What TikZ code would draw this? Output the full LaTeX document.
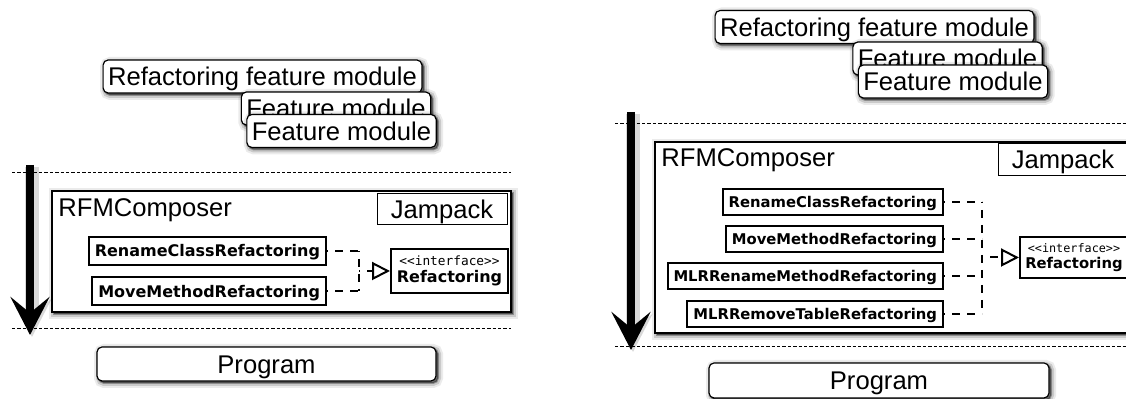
\documentclass[tikz,border=0pt]{standalone}
\usepackage{fontspec}
\setmainfont{Liberation Sans}
\newfontfamily\umlfont{DejaVu Sans}
\newfontfamily\umlmono{DejaVu Sans Mono}
\usepackage{tikz}
\usetikzlibrary{arrows.meta,shadows}

\begin{document}
\begin{tikzpicture}[x=0.5pt, y=-0.5pt,
  softshadow/.style={
    drop shadow={shadow xshift=1pt, shadow yshift=-1pt, opacity=.08, fill=black, draw=black, line width=5pt},
    drop shadow={shadow xshift=1pt, shadow yshift=-1pt, opacity=.14, fill=black, draw=black, line width=3pt},
    drop shadow={shadow xshift=1pt, shadow yshift=-1pt, opacity=.3, fill=black, draw=black, line width=1pt}},
  modbox/.style={draw, line width=.6pt, rounded corners=2.5pt, fill=white, softshadow,
    font=\fontsize{12.8}{14}\selectfont, text height=9.2pt, text depth=0pt,
    inner xsep=2.5pt, minimum height=16.5pt},
  compbox/.style={draw, line width=.8pt, fill=white, softshadow, inner sep=0pt},
  pkgbox/.style={draw, line width=.5pt, fill=white, font=\fontsize{12.8}{14}\selectfont,
    text height=9.2pt, text depth=0pt, minimum width=65pt, minimum height=15pt},
  title/.style={font=\fontsize{12.8}{14}\selectfont, anchor=base west, inner sep=0pt},
  classbox/.style={draw, line width=1pt, fill=white, font=\umlfont\bfseries\fontsize{8}{9}\selectfont,
    text height=5.8pt, text depth=0pt, inner xsep=3pt, minimum height=14pt, anchor=east},
  ifacebox/.style={draw, line width=1pt, fill=white, align=center, inner sep=1pt,
    font=\umlfont\bfseries\fontsize{8}{8.5}\selectfont},
  sepline/.style={line width=.5pt, dash pattern=on 1.7pt off 1pt},
  flow/.style={line width=4pt, -{Stealth[length=19pt, width=19.5pt, inset=8pt]},
    preaction={draw, opacity=.15, line width=7pt, transform canvas={shift={(1pt,-1pt)}}}},
  realize/.style={line width=1pt, dash pattern=on 4pt off 3.5pt, dash phase=3.5pt}]

  \useasboundingbox (0,0) rectangle (1126,399);
  \clip (0,0) rectangle (1126,399);

  % Left: feature modules
  \node[modbox] (rfmL) at (262.5,76.5) {Refactoring feature module};
  \node[modbox] (fmbackL) at (336,108.5) {Feature module};
  \node[modbox] (fmL) at (341.5,131) {Feature module};

  % Left: composition layer
  \draw[sepline] (12,173) -- (511,173);
  \draw[sepline] (12,329) -- (511,329);
  \node[compbox, minimum width=229.5pt, minimum height=60.5pt] (composerL) at (281.75,251.5) {};
  \node[title] (titleL) at (58,217) {RFMComposer};
  \node[pkgbox] (jampackL) at (442,209) {Jampack};
  \draw[flow] (30,165) -- (30,335);

  % Left: refactoring classes
  \node[classbox] (renameL) at (327,251) {RenameClassRefactoring};
  \node[classbox] (moveL) at (327,291.5) {MoveMethodRefactoring};
  \node[ifacebox, minimum width=58.5pt, minimum height=22pt] (ifaceL) at (449.5,271)
    {{\umlmono\mdseries\fontsize{6.4}{7}\selectfont <{}<interface>{}>}\\Refactoring};
  \coordinate (jL) at (359,271);
  \foreach \n in {renameL,moveL}
    \draw[realize] (\n.east) -- (\n.east -| jL);
  \draw[realize] (renameL.east -| jL) -- (moveL.east -| jL);
  \draw[realize, -{Triangle[length=9pt, width=9pt, fill=white]}] (jL) -- (ifaceL.west);

  \node[modbox, minimum width=169.5pt, minimum height=17pt] (progL) at (266.5,364) {Program};

  % Right: feature modules
  \node[modbox] (rfmR) at (874.5,27) {Refactoring feature module};
  \node[modbox] (fmbackR) at (947.5,58.5) {Feature module};
  \node[modbox] (fmR) at (953,81.5) {Feature module};

  % Right: composition layer
  \draw[sepline] (615,124) -- (1126,124);
  \draw[sepline] (615,347) -- (1126,347);
  \node[compbox, minimum width=242.5pt, minimum height=95.5pt] (composerR) at (897.5,237.5) {};
  \node[title] (titleR) at (661,167) {RFMComposer};
  \node[pkgbox, minimum height=15.5pt] (jampackR) at (1063,159.5) {Jampack};
  \draw[flow] (631,112) -- (631,350);

  % Right: refactoring classes
  \tikzset{classbox/.append style={font=\umlfont\bfseries\fontsize{7.4}{8.5}\selectfont,
    text height=5.4pt, minimum height=13pt}}
  \node[classbox] (renameR) at (944,202) {RenameClassRefactoring};
  \node[classbox] (moveR) at (944,239) {MoveMethodRefactoring};
  \node[classbox] (mlrrenameR) at (944,276) {MLRRenameMethodRefactoring};
  \node[classbox] (mlrremoveR) at (944,314) {MLRRemoveTableRefactoring};
  \node[ifacebox, minimum width=54pt, minimum height=20.5pt,
    font=\umlfont\bfseries\fontsize{7.4}{8}\selectfont] (ifaceR) at (1074,257.5)
    {{\umlmono\mdseries\fontsize{5.9}{6.5}\selectfont <{}<interface>{}>}\\Refactoring};
  \coordinate (jR) at (982,257.5);
  \foreach \n in {renameR,moveR,mlrrenameR,mlrremoveR}
    \draw[realize] (\n.east) -- (\n.east -| jR);
  \draw[realize] (renameR.east -| jR) -- (mlrremoveR.east -| jR);
  \draw[realize, -{Triangle[length=9pt, width=9pt, fill=white]}] (jR) -- (ifaceR.west);

  \node[modbox, minimum width=170pt, minimum height=17.5pt] (progR) at (879,380.5) {Program};
\end{tikzpicture}
\end{document}
